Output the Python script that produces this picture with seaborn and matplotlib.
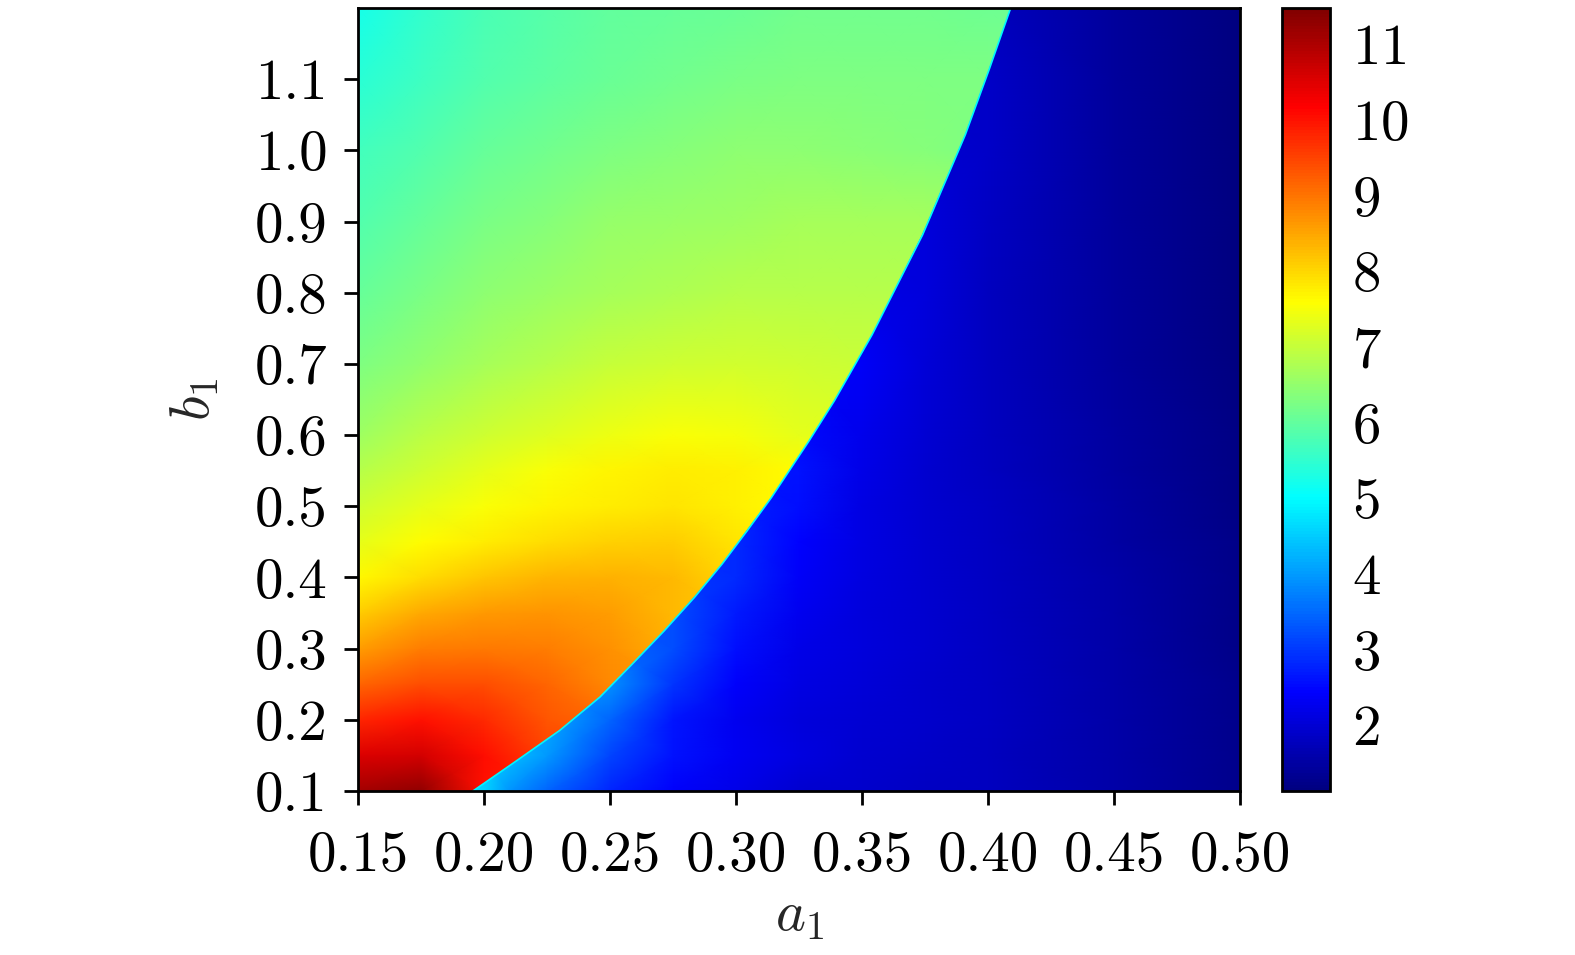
import matplotlib
matplotlib.use("Agg")
from matplotlib import pyplot as plt
from matplotlib.patches import Polygon
from matplotlib.colors import Normalize, LinearSegmentedColormap
from matplotlib.ticker import FormatStrFormatter
import seaborn as sns

# rows of the map (b1)
b_rows = [0.1, 0.15, 0.2, 0.25, 0.3, 0.35, 0.4, 0.45, 0.5, 0.55, 0.6, 0.7, 0.8, 0.9, 1.0, 1.1, 1.2]

# hot region, left of the jump (a1 columns)
a_left = [0.15, 0.175, 0.2, 0.225, 0.25, 0.275, 0.3, 0.325, 0.35, 0.375, 0.4, 0.425]
left_vals = [
    [11.1, 11.3, 10.0, 10.0, 10.0, 10.0, 10.0, 10.0, 10.0, 10.0, 10.0, 10.0],
    [10.55, 10.6, 10.05, 9.5, 9.5, 9.5, 9.5, 9.5, 9.5, 9.5, 9.5, 9.5],
    [9.8, 10.0, 9.75, 9.3, 9.1, 9.1, 9.1, 9.1, 9.1, 9.1, 9.1, 9.1],
    [9.15, 9.4, 9.4, 9.15, 8.8, 8.75, 8.75, 8.75, 8.75, 8.75, 8.75, 8.75],
    [8.6, 8.9, 8.95, 8.9, 8.7, 8.4, 8.4, 8.4, 8.4, 8.4, 8.4, 8.4],
    [8.1, 8.45, 8.62, 8.65, 8.6, 8.3, 8.2, 8.2, 8.2, 8.2, 8.2, 8.2],
    [7.65, 7.95, 8.2, 8.33, 8.38, 8.3, 8.0, 8.0, 8.0, 8.0, 8.0, 8.0],
    [7.35, 7.6, 7.8, 7.95, 8.05, 8.1, 7.85, 7.7, 7.7, 7.7, 7.7, 7.7],
    [7.1, 7.35, 7.55, 7.7, 7.8, 7.85, 7.75, 7.6, 7.6, 7.6, 7.6, 7.6],
    [6.85, 7.1, 7.34, 7.52, 7.68, 7.78, 7.73, 7.6, 7.55, 7.55, 7.55, 7.55],
    [6.6, 6.9, 7.1, 7.25, 7.4, 7.55, 7.5, 7.35, 7.3, 7.3, 7.3, 7.3],
    [6.3, 6.5, 6.69, 6.86, 7.03, 7.1, 7.13, 7.1, 7.05, 7.05, 7.05, 7.05],
    [6.05, 6.25, 6.43, 6.56, 6.69, 6.78, 6.87, 6.87, 6.85, 6.85, 6.85, 6.85],
    [5.85, 6.05, 6.25, 6.38, 6.51, 6.57, 6.62, 6.67, 6.7, 6.7, 6.7, 6.7],
    [5.66, 5.86, 6.05, 6.18, 6.3, 6.37, 6.43, 6.43, 6.4, 6.35, 6.3, 6.3],
    [5.45, 5.65, 5.84, 5.97, 6.1, 6.18, 6.25, 6.28, 6.3, 6.3, 6.3, 6.3],
    [5.25, 5.5, 5.74, 5.87, 5.99, 6.05, 6.1, 6.15, 6.18, 6.15, 6.12, 6.12],
]

# cold region, right of the jump
a_right = [0.15, 0.19, 0.2, 0.21, 0.225, 0.25, 0.275, 0.3, 0.325, 0.35, 0.375, 0.4, 0.45, 0.5]
right_vals = [
    [4.7, 4.7, 4.6, 3.95, 3.45, 2.82, 2.42, 2.2, 1.97, 1.9, 1.84, 1.78, 1.55, 1.26],
    [4.4, 4.4, 4.4, 4.4, 4.0, 3.15, 2.6, 2.32, 2.12, 1.97, 1.88, 1.8, 1.56, 1.26],
    [4.2, 4.2, 4.2, 4.2, 4.2, 3.45, 2.65, 2.3, 2.1, 2.0, 1.9, 1.82, 1.57, 1.26],
    [3.9, 3.9, 3.9, 3.9, 3.9, 3.9, 2.95, 2.42, 2.16, 2.03, 1.92, 1.83, 1.57, 1.26],
    [3.55, 3.55, 3.55, 3.55, 3.55, 3.55, 3.2, 2.55, 2.22, 2.06, 1.94, 1.84, 1.56, 1.25],
    [3.2, 3.2, 3.2, 3.2, 3.2, 3.2, 3.2, 2.7, 2.3, 2.1, 1.95, 1.84, 1.55, 1.24],
    [3.0, 3.0, 3.0, 3.0, 3.0, 3.0, 3.0, 2.85, 2.38, 2.12, 1.96, 1.84, 1.54, 1.23],
    [2.85, 2.85, 2.85, 2.85, 2.85, 2.85, 2.85, 2.85, 2.45, 2.15, 1.97, 1.83, 1.52, 1.22],
    [2.75, 2.75, 2.75, 2.75, 2.75, 2.75, 2.75, 2.75, 2.55, 2.18, 1.97, 1.82, 1.5, 1.21],
    [2.62, 2.62, 2.62, 2.62, 2.62, 2.62, 2.62, 2.62, 2.62, 2.2, 1.97, 1.8, 1.48, 1.2],
    [2.52, 2.52, 2.52, 2.52, 2.52, 2.52, 2.52, 2.52, 2.52, 2.25, 1.98, 1.78, 1.46, 1.19],
    [2.38, 2.38, 2.38, 2.38, 2.38, 2.38, 2.38, 2.38, 2.38, 2.38, 2.05, 1.8, 1.45, 1.17],
    [2.22, 2.22, 2.22, 2.22, 2.22, 2.22, 2.22, 2.22, 2.22, 2.22, 2.08, 1.8, 1.45, 1.15],
    [2.1, 2.1, 2.1, 2.1, 2.1, 2.1, 2.1, 2.1, 2.1, 2.1, 2.1, 1.84, 1.44, 1.14],
    [1.98, 1.98, 1.98, 1.98, 1.98, 1.98, 1.98, 1.98, 1.98, 1.98, 1.98, 1.86, 1.44, 1.13],
    [1.88, 1.88, 1.88, 1.88, 1.88, 1.88, 1.88, 1.88, 1.88, 1.88, 1.88, 1.88, 1.44, 1.13],
    [1.78, 1.78, 1.78, 1.78, 1.78, 1.78, 1.78, 1.78, 1.78, 1.78, 1.78, 1.78, 1.44, 1.12],
]

# where the jump sits (a1 for each b1)
bound_b = [0.1, 0.139, 0.185, 0.232, 0.279, 0.325, 0.372, 0.419, 0.466, 0.512,
           0.592, 0.648, 0.741, 0.881, 1.022, 1.114, 1.2]
bound_a = [0.1956, 0.2115, 0.230, 0.246, 0.259, 0.2715, 0.2835, 0.2945, 0.3045, 0.314,
           0.329, 0.339, 0.354, 0.374, 0.391, 0.4005, 0.409]

x_ticks = [0.15, 0.20, 0.25, 0.30, 0.35, 0.40, 0.45, 0.50]
y_ticks = [0.1, 0.2, 0.3, 0.4, 0.5, 0.6, 0.7, 0.8, 0.9, 1.0, 1.1]
cbar_ticks = [2, 3, 4, 5, 6, 7, 8, 9, 10, 11]
v_min, v_max = 1.13, 11.48

sns.set_style("ticks")
plt.rcParams.update({
    "font.family": ["cmr10", "DejaVu Serif"],
    "mathtext.fontset": "cm",
    "axes.formatter.use_mathtext": True,
    "font.size": 41,
    "axes.linewidth": 2,
    "axes.edgecolor": "black",
    "xtick.color": "black",
    "ytick.color": "black",
})

# matlab style jet
cmap = LinearSegmentedColormap.from_list("jet_m", [
    (0.0, (0, 0, 0.5)), (0.125, (0, 0, 1)), (0.375, (0, 1, 1)),
    (0.625, (1, 1, 0)), (0.875, (1, 0, 0)), (1.0, (0.5, 0, 0))])
norm = Normalize(vmin=v_min, vmax=v_max)

fig = plt.figure(figsize=(15.75, 9.55), dpi=100)
ax = fig.add_axes([0.2273, 0.1717, 0.56, 0.8199])
cax = fig.add_axes([0.8140, 0.1717, 0.0305, 0.8199])

# cold part everywhere, hot part clipped on top
ax.pcolormesh(a_right, b_rows, right_vals, shading="gouraud", cmap=cmap, norm=norm)
hot = ax.pcolormesh(a_left, b_rows, left_vals, shading="gouraud", cmap=cmap, norm=norm)
verts = [(0.15, bound_b[0])] + list(zip(bound_a, bound_b)) + [(0.15, bound_b[-1])]
hot.set_clip_path(Polygon(verts, closed=True, transform=ax.transData))
ax.plot(bound_a, bound_b, color=cmap(norm(4.9)), lw=1.2)

ax.set_xlim(0.15, 0.5)
ax.set_ylim(0.1, 1.2)
ax.set_xticks(x_ticks)
ax.set_yticks(y_ticks)
ax.xaxis.set_major_formatter(FormatStrFormatter("%.2f"))
ax.yaxis.set_major_formatter(FormatStrFormatter("%.1f"))
ax.tick_params(direction="out", length=10, width=2)
ax.tick_params(axis="x", pad=19)
ax.tick_params(axis="y", pad=12)
ax.set_xlabel(r"$a_1$", labelpad=6)
ax.set_ylabel(r"$b_1$", labelpad=24)

cb = fig.colorbar(hot, cax=cax)
cb.set_ticks(cbar_ticks)
cb.outline.set_linewidth(2)
cax.tick_params(direction="in", length=10, width=2, pad=16)

fig.savefig("out.png", dpi=100)
